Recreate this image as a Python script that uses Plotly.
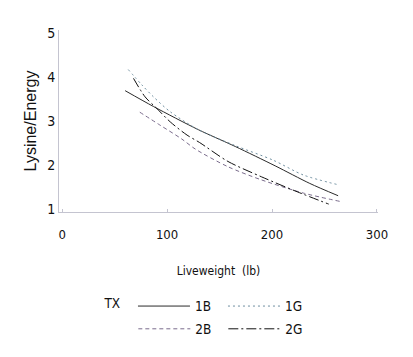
import plotly.graph_objects as go

# Data
x_1B = [60, 87, 130, 165, 203, 236, 263]
y_1B = [3.69, 3.33, 2.80, 2.42, 1.98, 1.58, 1.30]

x_1G = [63, 76, 87, 103, 130, 165, 201, 230, 263]
y_1G = [4.17, 3.82, 3.55, 3.21, 2.80, 2.44, 2.11, 1.77, 1.55]

x_2B = [74, 93, 114, 127, 158, 190, 230, 265]
y_2B = [3.20, 2.91, 2.59, 2.36, 1.96, 1.66, 1.36, 1.17]

x_2G = [68, 79, 90, 103, 119, 131, 158, 190, 224, 254]
y_2G = [3.97, 3.55, 3.29, 2.98, 2.68, 2.51, 2.08, 1.73, 1.39, 1.11]

x_ticks = [0, 100, 200, 300]
y_ticks = [1, 2, 3, 4, 5]

NARROW = "Liberation Sans Narrow, DejaVu Sans Condensed, Arial Narrow, Liberation Sans, sans-serif"
REG = "Liberation Sans, Arial, sans-serif"

fig = go.Figure()
series = [
    ("1B", x_1B, y_1B, "#2a2a2a", "solid", "legend"),
    ("1G", x_1G, y_1G, "#6f8fa0", "2px,3px", "legend"),
    ("2B", x_2B, y_2B, "#7a6c8c", "4px,3px", "legend2"),
    ("2G", x_2G, y_2G, "#111111", "10px,3px,2px,3px", "legend2"),
]
for name, xs, ys, col, dash, lg in series:
    fig.add_trace(go.Scatter(
        x=xs, y=ys, mode="lines", name=name, legend=lg,
        line=dict(color=col, width=1, dash=dash, shape="spline", smoothing=0.8),
    ))

fig.update_layout(
    width=413, height=357,
    margin=dict(l=59, r=35, t=30, b=145, autoexpand=False),
    paper_bgcolor="white", plot_bgcolor="white",
    font=dict(family=NARROW, size=13, color="#111111"),
    xaxis=dict(
        range=[-3, 301], tickvals=x_ticks, ticktext=[str(v) for v in x_ticks],
        showgrid=False, zeroline=False, showline=True, linecolor="#c4c4d0", linewidth=1,
        ticks="inside", ticklen=3, tickcolor="#c4c4d0", automargin=False,
        ticklabelstandoff=10,
        tickfont=dict(family=NARROW, size=13),
        title=dict(text="Liveweight  (lb)", font=dict(family=NARROW, size=12), standoff=26),
    ),
    yaxis=dict(
        range=[0.93, 5.07], tickvals=y_ticks, ticktext=[str(v) for v in y_ticks],
        showgrid=False, zeroline=False, showline=True, linecolor="#c4c4d0", linewidth=1,
        ticks="", tickfont=dict(family=NARROW, size=14), automargin=False,
        title=dict(text="Lysine/Energy", font=dict(family=REG, size=16), standoff=6),
    ),
    legend=dict(
        orientation="h", x=0.136, xanchor="left", y=-0.518, yanchor="middle",
        title=dict(text="TX ", side="left", font=dict(family=NARROW, size=13.5)),
        entrywidth=23, entrywidthmode="pixels", itemwidth=52,
        font=dict(family=NARROW, size=13.5), bgcolor="rgba(0,0,0,0)",
    ),
    legend2=dict(
        orientation="h", x=0.233, xanchor="left", y=-0.643, yanchor="middle",
        entrywidth=23, entrywidthmode="pixels", itemwidth=52,
        font=dict(family=NARROW, size=13.5), bgcolor="rgba(0,0,0,0)",
    ),
)

fig.write_html("out.html", config={"displayModeBar": False},
               post_script="document.body.style.margin='0px';")
